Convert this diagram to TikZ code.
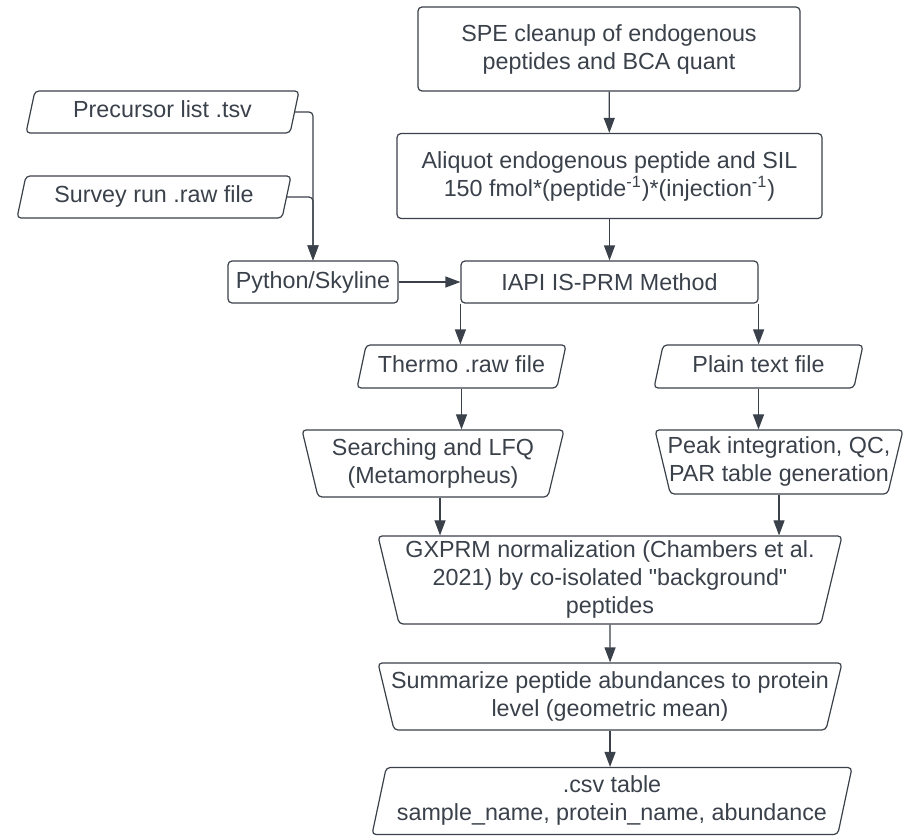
\documentclass[tikz,border=0pt]{standalone}
\usepackage{fontspec}
\setmainfont{Liberation Sans}[Ligatures=TeXOff]
\usetikzlibrary{arrows.meta, shapes.geometric}
\definecolor{ink}{HTML}{3A414A}
% text of a slanted box, set to the full height of the box
\newcommand{\celltext}[2]{\vbox to #1{\vss\hbox{\begin{tabular}{@{}c@{}}#2\end{tabular}}\vss}}

\begin{document}
\begin{tikzpicture}[x = 0.5pt, y = -0.5pt, % one unit is one pixel of the sketch
                > = {Triangle[length = 7.5pt, width = 5.5pt]}, % arrow head style
                line width = 0.6pt, color = ink % line style
            ]

            \tikzstyle{every node}=[draw = ink, text = ink, align = center,
            inner sep = 0pt, rounded corners = 2pt,
            font = \fontsize{11.65}{14}\selectfont]
            \tikzstyle{process}=[rectangle]
            \tikzstyle{data}=[trapezium, trapezium left angle = 78,
            trapezium right angle = 102, trapezium stretches body,
            inner xsep = -6pt]
            \tikzstyle{manual}=[trapezium, trapezium left angle = 103.5,
            trapezium right angle = 103.5, trapezium stretches body,
            inner xsep = -6pt]

            \useasboundingbox (0,0) rectangle (903,835);

            % main column
            \node (spe) [process, minimum width = 191pt, minimum height = 42pt]
            at (609,49) {SPE cleanup of endogenous\\peptides and BCA quant};
            \node (aliq) [process, minimum width = 212.5pt, minimum height = 42.5pt]
            at (609.5,176) {Aliquot endogenous peptide and SIL\\150
            fmol*(peptide\textsuperscript{-1})*(injection\textsuperscript{-1})};
            \node (iapi) [process, minimum width = 148.5pt, minimum height = 21pt]
            at (609.5,282) {IAPI IS-PRM Method};

            % inputs on the left
            \node (pre) [data, minimum width = 136.5pt]
            at (162.5,112) {\celltext{21pt}{Precursor list .tsv}};
            \node (sur) [data, minimum width = 137pt]
            at (154,197) {\celltext{21pt}{Survey run .raw file}};
            \node (py) [process, minimum width = 85pt, minimum height = 21pt]
            at (313,282) {Python/Skyline};

            % two branches
            \node (thermo) [data, minimum width = 104.5pt]
            at (461.5,366.5) {\celltext{21.5pt}{Thermo .raw file}};
            \node (plain) [data, minimum width = 104.5pt]
            at (758.5,366.5) {\celltext{21.5pt}{Plain text file}};
            \node (search) [manual, minimum width = 131pt]
            at (433,463.5) {\celltext{33.5pt}{Searching and LFQ\\(Metamorpheus)}};
            \node (peak) [manual, minimum width = 124pt]
            at (779,462) {\celltext{32pt}{Peak integration, QC,\\PAR table generation}};

            % joined again
            \node (gx) [manual, minimum width = 232pt]
            at (610,580) {\celltext{44pt}{GXPRM normalization (Chambers et al.\\2021) by
            co-isolated "background"\\peptides}};
            \node (sum) [manual, minimum width = 232pt]
            at (610,696.5) {\celltext{33.5pt}{Summarize peptide abundances to protein\\level
            (geometric mean)}};
            \node (csv) [data, minimum width = 240pt]
            at (612,801) {\celltext{33.5pt}{.csv table\\sample\_name, protein\_name, abundance}};

            \path[->] (spe) edge (aliq); \path[->] (aliq) edge (iapi);
            \draw[->, rounded corners = 2pt] (pre.east) -| (py.north);
            \draw[->, rounded corners = 2pt] (sur.east) -| (py.north);
            \path[->] (py) edge (iapi);
            \draw[->] (iapi.south west) -- (iapi.south west |- thermo.north);
            \draw[->] (iapi.south east) -- (iapi.south east |- plain.north);
            \draw[->] (thermo.center |- thermo.south) -- (thermo.center |- search.north);
            \draw[->] (plain.center |- plain.south) -- (plain.center |- peak.north);
            \draw[->] ([xshift = 3.5pt]search.south) -- ([xshift = 3.5pt]search.south |- gx.north);
            \draw[->] (peak.south) -- (peak.south |- gx.north);
            \path[->] (gx) edge (sum); \draw[->] (sum.south) -- (sum.south |- csv.north);
\end{tikzpicture}
\end{document}
